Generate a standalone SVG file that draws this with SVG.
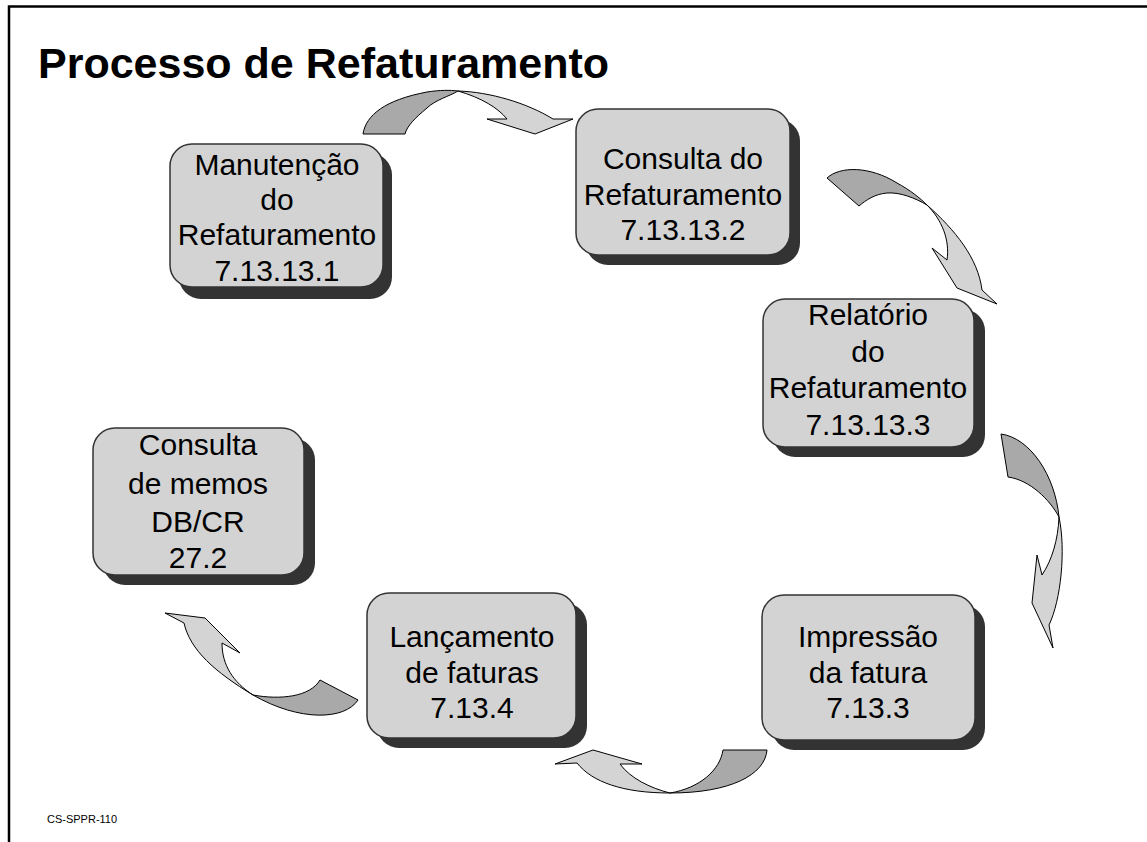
<svg xmlns="http://www.w3.org/2000/svg" width="1147" height="842" viewBox="0 0 1147 842">
<style>
.box{fill:#d3d3d3;stroke:#333;stroke-width:1.5}
.sh{fill:#333}
.t{font-family:"Liberation Sans",Arial,sans-serif;font-size:30px;fill:#000;text-anchor:middle}
.dk{fill:#a9a9a9;stroke:#000;stroke-width:1;stroke-linejoin:round}
.lt{fill:#d4d4d4;stroke:#000;stroke-width:1;stroke-linejoin:round}
</style>
<rect width="1147" height="842" fill="#fff"/>
<path d="M9,842 V6.5 H1147" fill="none" stroke="#000" stroke-width="2.5"/>
<text x="38" y="78" font-family="Liberation Sans,Arial,sans-serif" font-size="43" font-weight="bold">Processo de Refaturamento</text>
<text x="47" y="823" font-family="Liberation Sans,Arial,sans-serif" font-size="11">CS-SPPR-110</text>

<g id="connectors">
<g id="a1">
<path class="dk" d="M363,134 C366,115 385,100 427,92 C440,90 450,90 458,91 C450,96 435,100 427,108 C415,118 407,126 405,134 Z"/>
<path class="lt" d="M458,91 C490,92 527,103 553,119 L573,119 L535,134 L487,119 L507,119 C498,108 482,98 458,91 Z"/>
</g>
<g id="a2">
<path class="dk" d="M827,178 C840,166 870,166 897,183 C910,190 920,198 927,205 C915,198 900,192 887,193 C875,194 866,200 859,206 Z"/>
<path class="lt" d="M927,205 C955,230 978,258 982,290 L997,304 L957,288 L932,248 L947,260 C950,240 942,220 927,205 Z"/>
</g>
<g id="a3">
<path class="dk" d="M1001,434 C1030,438 1055,475 1059,517 C1050,500 1030,480 1008,477 Z"/>
<path class="lt" d="M1059,517 C1066,550 1061,600 1049,625 L1053,648 L1032,603 L1037,555 L1042,575 C1052,560 1058,540 1059,517 Z"/>
</g>
<g id="a4">
<path class="dk" d="M723,750 L767,750 C765,775 730,793 670,793 C700,788 720,770 723,750 Z"/>
<path class="lt" d="M670,793 C623,793 592,782 577,763 L555,764 L593,750 L642,764 L620,764 C630,778 650,788 670,793 Z"/>
</g>
<g id="a5">
<path class="dk" d="M320,680 L358,700 C345,720 300,722 253,695 C280,700 310,697 320,680 Z"/>
<path class="lt" d="M253,695 C215,672 190,650 184,623 L165,613 L205,618 L240,653 L222,643 C222,665 233,682 253,695 Z"/>
</g>
</g>

<g id="n1">
<rect class="sh" x="179" y="153" width="213" height="146" rx="22"/>
<rect class="box" x="170" y="144" width="213" height="143" rx="22"/>
<text class="t" x="277" y="175">Manutenção</text>
<text class="t" x="277" y="210">do</text>
<text class="t" x="277" y="245">Refaturamento</text>
<text class="t" x="277" y="281">7.13.13.1</text>
</g>
<g id="n2">
<rect class="sh" x="586" y="119" width="214" height="146" rx="22"/>
<rect class="box" x="576" y="109" width="214" height="146" rx="22"/>
<text class="t" x="683" y="169">Consulta do</text>
<text class="t" x="683" y="205">Refaturamento</text>
<text class="t" x="683" y="240">7.13.13.2</text>
</g>
<g id="n3">
<rect class="sh" x="773" y="309" width="212" height="148" rx="22"/>
<rect class="box" x="763" y="299" width="211" height="148" rx="22"/>
<text class="t" x="868" y="325">Relatório</text>
<text class="t" x="868" y="362">do</text>
<text class="t" x="868" y="398">Refaturamento</text>
<text class="t" x="868" y="435">7.13.13.3</text>
</g>
<g id="n4">
<rect class="sh" x="103" y="438" width="212" height="147" rx="22"/>
<rect class="box" x="93" y="428" width="211" height="147" rx="22"/>
<text class="t" x="198" y="455">Consulta</text>
<text class="t" x="198" y="494">de memos</text>
<text class="t" x="198" y="532">DB/CR</text>
<text class="t" x="198" y="568">27.2</text>
</g>
<g id="n5">
<rect class="sh" x="377" y="603" width="210" height="145" rx="22"/>
<rect class="box" x="367" y="593" width="209" height="145" rx="22"/>
<text class="t" x="472" y="647">Lançamento</text>
<text class="t" x="472" y="683">de faturas</text>
<text class="t" x="472" y="718">7.13.4</text>
</g>
<g id="n6">
<rect class="sh" x="772" y="605" width="213" height="145" rx="22"/>
<rect class="box" x="762" y="595" width="213" height="145" rx="22"/>
<text class="t" x="868" y="647">Impressão</text>
<text class="t" x="868" y="683">da fatura</text>
<text class="t" x="868" y="718">7.13.3</text>
</g>
</svg>
